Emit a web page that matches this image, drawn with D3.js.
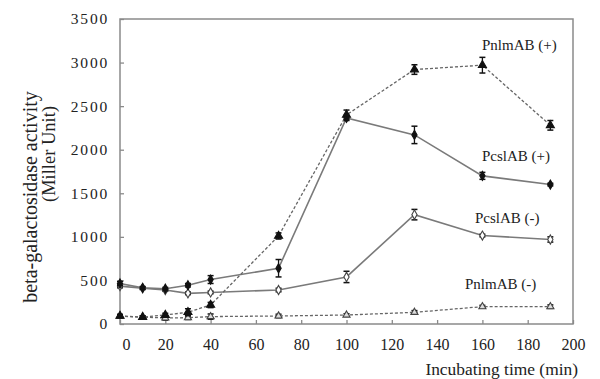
<!DOCTYPE html>
<html>
<head>
<meta charset="utf-8">
<script src="https://cdn.jsdelivr.net/npm/d3@7"></script>
<style>
  body { margin: 0; background: #fff; }
  svg { display: block; }
  svg text { font-family: "Liberation Serif", "Times New Roman", Times, serif; fill: #222; }
</style>
</head>
<body>
<div class="chart"></div>
<script>
// sampling times (min)
const times = [0, 10, 20, 30, 40, 70, 100, 130, 160, 190];

// beta-galactosidase activity (Miller units) and error bars
const pnlmPlus = [92, 80, 103, 135, 218, 1010, 2400, 2920, 2970, 2280];
const pnlmPlusErr = [20, 15, 20, 40, 30, 35, 55, 55, 90, 55];
const pcslPlus = [465, 415, 405, 445, 510, 640, 2365, 2170, 1700, 1600];
const pcslPlusErr = [25, 15, 15, 20, 45, 100, 30, 100, 40, 15];
const pcslMinus = [435, 410, 390, 352, 362, 390, 540, 1255, 1015, 970];
const pcslMinusErr = [20, 15, 15, 15, 15, 20, 65, 60, 15, 30];
const pnlmMinus = [90, 78, 70, 72, 85, 92, 103, 134, 199, 199];
const pnlmMinusErr = [15, 15, 25, 20, 30, 20, 15, 20, 15, 20];

const xTicks = [0, 20, 40, 60, 80, 100, 120, 140, 160, 180, 200];
const yTicks = [0, 500, 1000, 1500, 2000, 2500, 3000, 3500];

const series = [
  { name: 'PnlmAB (-)', values: pnlmMinus, err: pnlmMinusErr, dash: '3,2', symbol: d3.symbolTriangle, size: 22, fill: '#ddd', stroke: '#444' },
  { name: 'PcslAB (-)', values: pcslMinus, err: pcslMinusErr, dash: null, symbol: d3.symbolDiamond, size: 24, fill: '#fff', stroke: '#444' },
  { name: 'PcslAB (+)', values: pcslPlus, err: pcslPlusErr, dash: null, symbol: d3.symbolDiamond, size: 24, fill: '#111', stroke: '#111' },
  { name: 'PnlmAB (+)', values: pnlmPlus, err: pnlmPlusErr, dash: '3,2', symbol: d3.symbolTriangle, size: 28, fill: '#111', stroke: '#111' }
];

const labels = [
  { text: 'PnlmAB (+)', x: 482, y: 50 },
  { text: 'PcslAB (+)', x: 482, y: 161 },
  { text: 'PcslAB (-)', x: 475, y: 223 },
  { text: 'PnlmAB (-)', x: 465, y: 289 }
];

const w = 600, h = 379;
const m = { left: 120, right: 573, top: 19, bottom: 324 };

const x = d3.scaleLinear().domain([0, 200]).range([m.left, m.right]);
const y = d3.scaleLinear().domain([0, 3500]).range([m.bottom, m.top]);

const svg = d3.select('.chart').append('svg')
  .attr('width', w)
  .attr('height', h);

// plot frame
svg.append('rect')
  .attr('x', m.left)
  .attr('y', m.top)
  .attr('width', m.right - m.left)
  .attr('height', m.bottom - m.top)
  .attr('fill', 'none')
  .attr('stroke', '#8a8a8a')
  .attr('stroke-width', 1.5);

// axes, ticks point inward
const xAxis = svg.append('g')
  .attr('transform', `translate(0,${m.bottom})`)
  .call(d3.axisBottom(x).tickValues(xTicks).tickSize(-4).tickPadding(15).tickFormat(d3.format('d')));

const yAxis = svg.append('g')
  .attr('transform', `translate(${m.left},0)`)
  .call(d3.axisLeft(y).tickValues(yTicks).tickSize(-4).tickPadding(11).tickFormat(d3.format('d')));

[xAxis, yAxis].forEach(a => {
  a.attr('font-family', null).attr('font-size', null);
  a.select('.domain').remove();
  a.selectAll('line').attr('stroke', '#8a8a8a').attr('stroke-width', 1.3);
  a.selectAll('text').style('font-size', '16px').attr('fill', '#222');
});
yAxis.selectAll('text').style('font-size', '15.5px').style('letter-spacing', '1.8px');
// first x label sits a little to the right in the original
xAxis.selectAll('.tick text').filter(d => d === 0).attr('dx', 6);

const line = d3.line()
  .x((d, i) => x(times[i]))
  .y(d => y(d));

series.forEach(s => {
  const g = svg.append('g');

  g.append('path')
    .attr('d', line(s.values))
    .attr('fill', 'none')
    .attr('stroke', s.dash ? '#666' : '#7a7a7a')
    .attr('stroke-width', s.dash ? 1.3 : 1.6)
    .attr('stroke-dasharray', s.dash);

  // error bars
  const bars = g.selectAll('.err')
    .data(s.values)
    .enter().append('g');

  bars.append('line')
    .attr('x1', (d, i) => x(times[i]))
    .attr('x2', (d, i) => x(times[i]))
    .attr('y1', (d, i) => y(d + s.err[i]))
    .attr('y2', (d, i) => y(d - s.err[i]))
    .attr('stroke', '#111')
    .attr('stroke-width', 1.3);

  [1, -1].forEach(sign => {
    bars.append('line')
      .attr('x1', (d, i) => x(times[i]) - 3)
      .attr('x2', (d, i) => x(times[i]) + 3)
      .attr('y1', (d, i) => y(d + sign * s.err[i]))
      .attr('y2', (d, i) => y(d + sign * s.err[i]))
      .attr('stroke', '#111')
      .attr('stroke-width', 1.5);
  });

  // markers
  g.selectAll('.dot')
    .data(s.values)
    .enter().append('path')
    .attr('d', d3.symbol().type(s.symbol).size(s.size))
    .attr('transform', (d, i) => `translate(${x(times[i])},${y(d)})`)
    .attr('fill', s.fill)
    .attr('stroke', s.stroke)
    .attr('stroke-width', 1.1);
});

// series labels
svg.selectAll('.lbl')
  .data(labels)
  .enter().append('text')
  .attr('x', d => d.x)
  .attr('y', d => d.y)
  .style('font-size', '15px')
  .text(d => d.text);

// axis titles
svg.append('text')
  .attr('x', 578)
  .attr('y', 375)
  .attr('text-anchor', 'end')
  .style('font-size', '17.4px')
  .text('Incubating time (min)');

svg.append('text')
  .attr('transform', 'translate(37,197) rotate(-90)')
  .attr('text-anchor', 'middle')
  .style('font-size', '20px')
  .text('beta-galactosidase activity');

svg.append('text')
  .attr('transform', 'translate(55,154) rotate(-90)')
  .attr('text-anchor', 'middle')
  .style('font-size', '18.5px')
  .text('(Miller Unit)');
</script>
</body>
</html>
